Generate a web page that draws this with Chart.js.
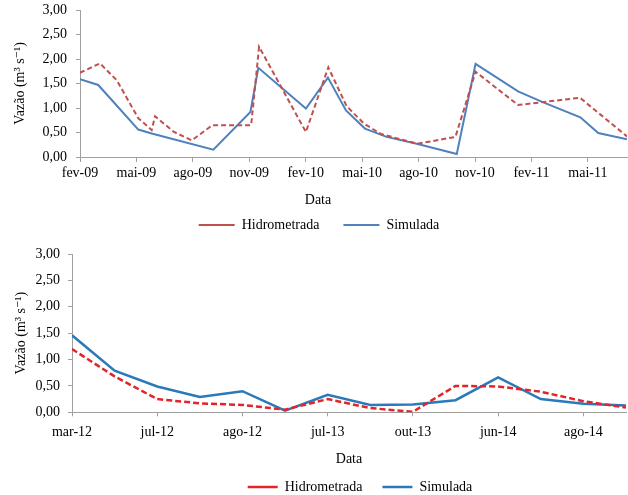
<!DOCTYPE html>
<html><head><meta charset="utf-8">
<script src="https://cdn.jsdelivr.net/npm/chart.js@4/dist/chart.umd.min.js"></script>
<style>
html,body{margin:0;padding:0;background:#fff;overflow:hidden;width:628px;height:495px;}
#c1{position:absolute;left:0;top:0;}
#c2{position:absolute;left:0;top:240px;}
</style></head><body>
<canvas id="c1" width="628" height="242"></canvas>
<canvas id="c2" width="628" height="264"></canvas>
<script>
// ---- Top chart data (x = months since fev-09) ----
const topTickMonths = [0, 3, 6, 9, 12, 15, 18, 21, 24, 27];
const topTickLabels = ['fev-09','mai-09','ago-09','nov-09','fev-10','mai-10','ago-10','nov-10','fev-11','mai-11'];
const topXMax = 29.08;
const topHidroMonths = [0, 1.06, 1.95, 3.1, 3.81, 3.99, 5.0, 5.94, 7.04, 9.1, 9.52, 12.01, 13.2, 14.17, 15.1, 16.0, 17.94, 19.96, 21.03, 23.29, 26.58, 29.08];
const topHidroValues = [1.72, 1.91, 1.57, 0.79, 0.55, 0.83, 0.51, 0.34, 0.65, 0.65, 2.25, 0.51, 1.83, 1.04, 0.68, 0.47, 0.27, 0.41, 1.74, 1.06, 1.21, 0.42];
const topSimMonths = [0, 0.97, 3.1, 3.81, 7.09, 9.06, 9.48, 12.01, 13.18, 14.14, 15.15, 16.3, 17.9, 20.03, 21.03, 23.29, 24.6, 26.6, 27.55, 29.08];
const topSimValues = [1.59, 1.47, 0.56, 0.48, 0.15, 0.92, 1.82, 0.99, 1.62, 0.95, 0.58, 0.41, 0.27, 0.06, 1.90, 1.34, 1.12, 0.81, 0.49, 0.36];

// ---- Bottom chart data (14 sampling dates, every other one labelled) ----
const bottomTickLabels = ['mar-12','jul-12','ago-12','jul-13','out-13','jun-14','ago-14'];
const bottomHidro = [1.20, 0.68, 0.25, 0.17, 0.14, 0.05, 0.25, 0.08, 0.01, 0.50, 0.49, 0.39, 0.21, 0.09];
const bottomSim   = [1.46, 0.79, 0.49, 0.29, 0.40, 0.03, 0.33, 0.14, 0.15, 0.23, 0.66, 0.25, 0.16, 0.13];

const yTicks = [0, 0.5, 1, 1.5, 2, 2.5, 3];
const seriesNames = ['Hidrometrada', 'Simulada'];
const yTitle = 'Vazão (m³ s⁻¹)';
const xTitle = 'Data';

Chart.defaults.font.family = "'Liberation Serif', 'Times New Roman', 'DejaVu Serif', serif";
Chart.defaults.font.size = 14;
Chart.defaults.color = '#000';

const toPts = (xs, ys) => xs.map((x, i) => ({x: x, y: ys[i]}));
const idxPts = ys => ys.map((y, i) => ({x: i, y: y}));
const fmt = v => Number(v).toFixed(2).replace('.', ',');

const nudge = {
  id: 'nudge',
  afterLayout(chart, args, opts) {
    if (opts.legendDx && chart.legend) { chart.legend.left += opts.legendDx; chart.legend.right += opts.legendDx; }
    if (opts.titleDx && chart.titleBlock) { chart.titleBlock.left += opts.titleDx; chart.titleBlock.right += opts.titleDx; }
  }
};

const AXIS = '#A0A0A0';
const fixY = w => s => { s.width = w; s.paddingTop = 0; s.paddingBottom = 0; };
const fixX = h => s => { s.height = h; };

// ---------------- Top chart ----------------
new Chart(document.getElementById('c1'), {
  type: 'line',
  data: {
    datasets: [
      {label: seriesNames[0], data: toPts(topHidroMonths, topHidroValues), borderColor: '#C0504D', backgroundColor: '#C0504D',
       borderDash: [5, 3], borderWidth: 2, pointRadius: 0, tension: 0, fill: false},
      {label: seriesNames[1], data: toPts(topSimMonths, topSimValues), borderColor: '#4F81BD', backgroundColor: '#4F81BD',
       borderWidth: 2, pointRadius: 0, tension: 0, fill: false}
    ]
  },
  options: {
    responsive: false, animation: false, events: [],
    layout: {padding: {top: 10, right: 1, left: 0, bottom: 0}},
    scales: {
      x: {
        type: 'linear', min: 0, max: topXMax,
        afterBuildTicks: s => { s.ticks = topTickMonths.map(v => ({value: v})); },
        afterFit: fixX(24.8),
        ticks: {autoSkip: false, maxRotation: 0, padding: 3, callback: (v, i) => topTickLabels[i]},
        grid: {drawOnChartArea: false, tickLength: 5, color: AXIS},
        border: {color: AXIS}
      },
      y: {
        min: 0, max: 3,
        afterBuildTicks: s => { s.ticks = yTicks.map(v => ({value: v})); },
        afterFit: fixY(80),
        ticks: {padding: 9, callback: v => fmt(v)},
        grid: {drawOnChartArea: false, tickLength: 4, color: AXIS},
        border: {color: AXIS},
        title: {display: true, text: yTitle, padding: {top: 11.6, bottom: 0}, font: {size: 14}}
      }
    },
    plugins: {
      legend: {position: 'bottom', labels: {usePointStyle: true, pointStyle: 'line', pointStyleWidth: 36, padding: 24}},
      title: {display: true, text: xTitle, position: 'bottom', weight: 500, font: {size: 14, weight: 'normal'},
              padding: {top: 9.8, bottom: -14.4}},
      tooltip: {enabled: false},
      nudge: {legendDx: 5.5, titleDx: 4.5}
    }
  },
  plugins: [nudge]
});

// ---------------- Bottom chart ----------------
new Chart(document.getElementById('c2'), {
  type: 'line',
  data: {
    datasets: [
      {label: seriesNames[0], data: idxPts(bottomHidro), borderColor: '#E3242B', backgroundColor: '#E3242B',
       borderDash: [6, 3], borderWidth: 2.5, pointRadius: 0, tension: 0, fill: false},
      {label: seriesNames[1], data: idxPts(bottomSim), borderColor: '#2A79B8', backgroundColor: '#2A79B8',
       borderWidth: 2.5, pointRadius: 0, tension: 0, fill: false}
    ]
  },
  options: {
    responsive: false, animation: false, events: [],
    layout: {padding: {top: 14, right: 2, left: 0, bottom: 0}},
    scales: {
      x: {
        type: 'linear', min: 0, max: bottomSim.length - 1,
        afterBuildTicks: s => { s.ticks = bottomTickLabels.map((l, i) => ({value: i * 2})); },
        afterFit: fixX(47.7),
        ticks: {autoSkip: false, maxRotation: 0, padding: 7.3, callback: (v, i) => bottomTickLabels[i]},
        grid: {drawOnChartArea: false, tickLength: 4, color: AXIS},
        border: {color: AXIS},
        title: {display: true, text: xTitle, padding: {top: 10.2, bottom: -7.4}, font: {size: 14}}
      },
      y: {
        min: 0, max: 3,
        afterBuildTicks: s => { s.ticks = yTicks.map(v => ({value: v})); },
        afterFit: fixY(72),
        ticks: {padding: 8, callback: v => fmt(v)},
        grid: {drawOnChartArea: false, tickLength: 4, color: AXIS},
        border: {color: AXIS},
        title: {display: true, text: yTitle, padding: {top: 12.6, bottom: 0}, font: {size: 14}}
      }
    },
    plugins: {
      legend: {position: 'bottom', fullSize: false, labels: {usePointStyle: true, pointStyle: 'line', pointStyleWidth: 30, padding: 20}},
      tooltip: {enabled: false},
      nudge: {legendDx: 11}
    }
  },
  plugins: [nudge]
});
</script>
</body></html>
